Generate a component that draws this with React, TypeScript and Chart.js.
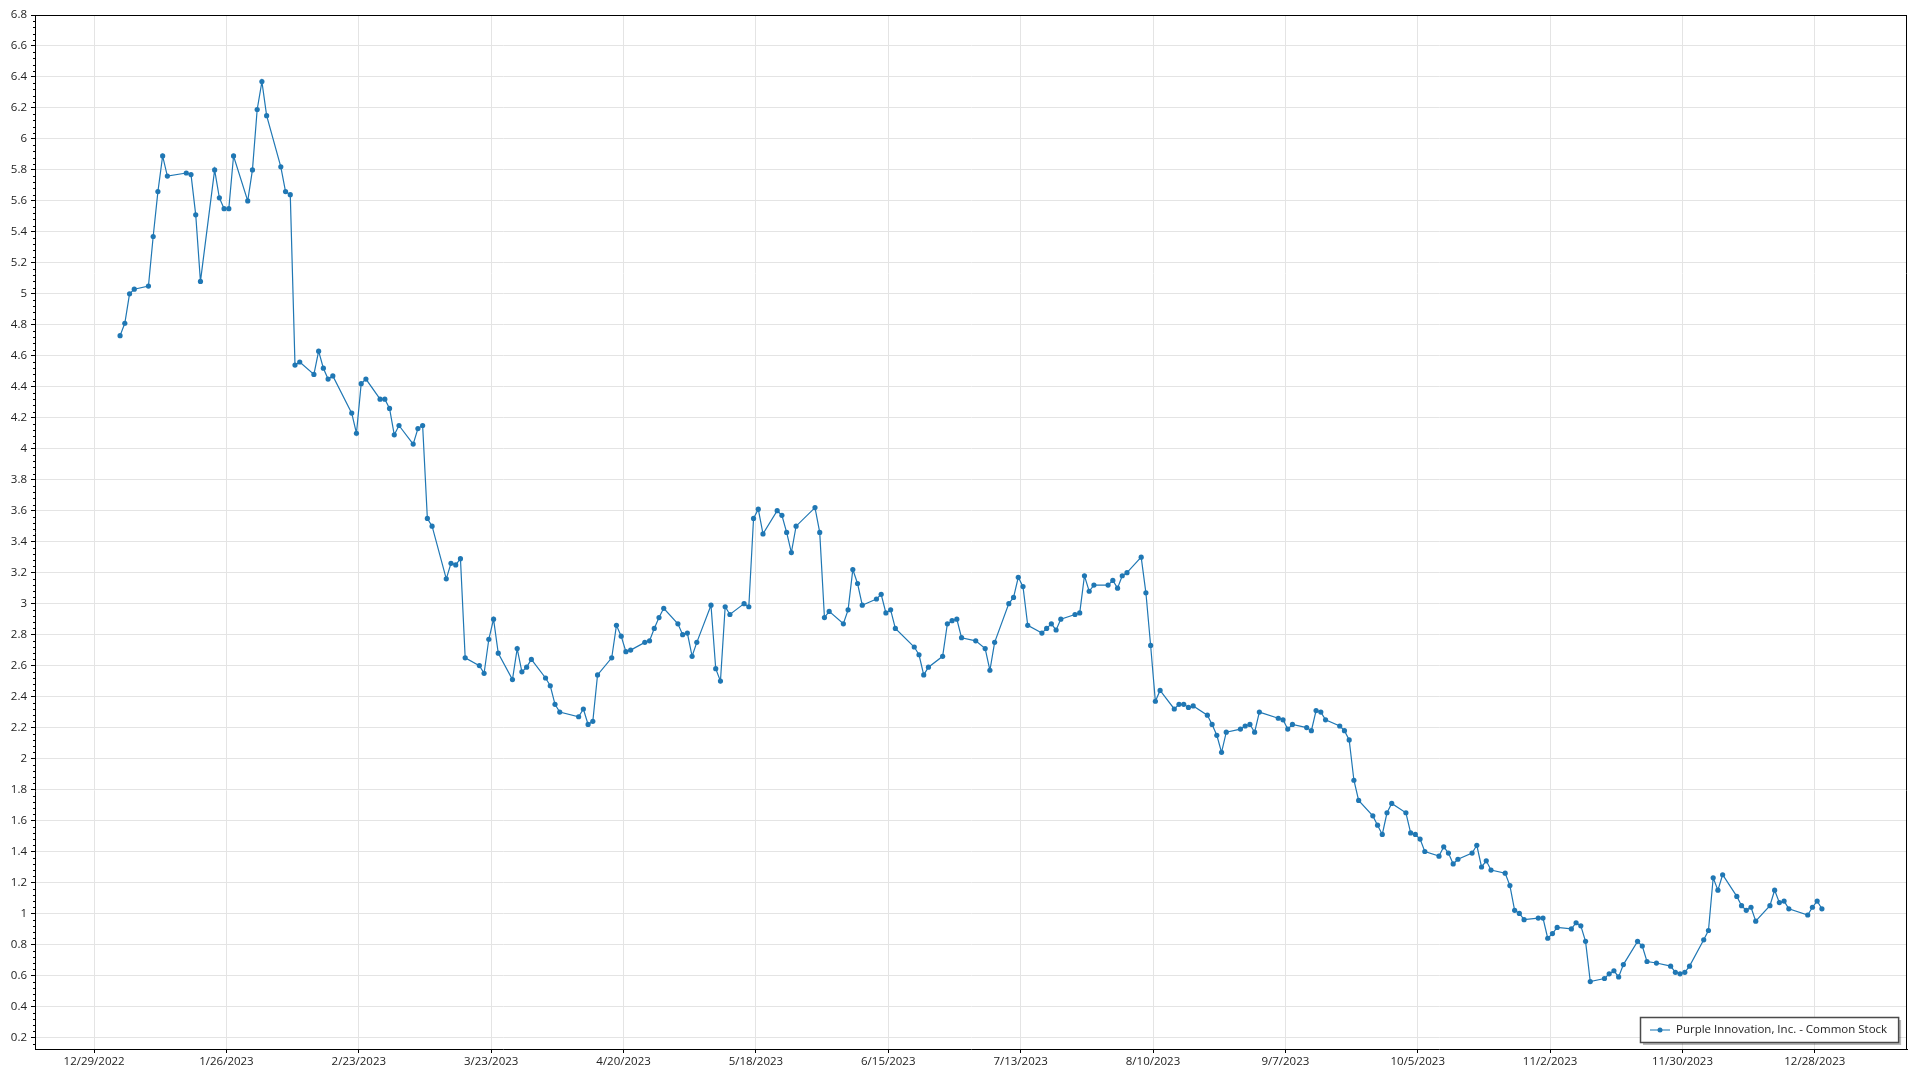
import { useEffect, useRef } from 'react';
import { Chart, registerables } from 'chart.js';

Chart.register(...registerables);

const seriesName = 'Purple Innovation, Inc. - Common Stock';

const tradeDates = [
  '2023-01-03', '2023-01-04', '2023-01-05', '2023-01-06', '2023-01-09', '2023-01-10', '2023-01-11', '2023-01-12', '2023-01-13',
  '2023-01-17', '2023-01-18', '2023-01-19', '2023-01-20', '2023-01-23', '2023-01-24', '2023-01-25', '2023-01-26', '2023-01-27',
  '2023-01-30', '2023-01-31',
  '2023-02-01', '2023-02-02', '2023-02-03', '2023-02-06', '2023-02-07', '2023-02-08', '2023-02-09', '2023-02-10', '2023-02-13',
  '2023-02-14', '2023-02-15', '2023-02-16', '2023-02-17', '2023-02-21', '2023-02-22', '2023-02-23', '2023-02-24', '2023-02-27',
  '2023-02-28',
  '2023-03-01', '2023-03-02', '2023-03-03', '2023-03-06', '2023-03-07', '2023-03-08', '2023-03-09', '2023-03-10', '2023-03-13',
  '2023-03-14', '2023-03-15', '2023-03-16', '2023-03-17', '2023-03-20', '2023-03-21', '2023-03-22', '2023-03-23', '2023-03-24',
  '2023-03-27', '2023-03-28', '2023-03-29', '2023-03-30', '2023-03-31',
  '2023-04-03', '2023-04-04', '2023-04-05', '2023-04-06', '2023-04-10', '2023-04-11', '2023-04-12', '2023-04-13', '2023-04-14',
  '2023-04-17', '2023-04-18', '2023-04-19', '2023-04-20', '2023-04-21', '2023-04-24', '2023-04-25', '2023-04-26', '2023-04-27',
  '2023-04-28',
  '2023-05-01', '2023-05-02', '2023-05-03', '2023-05-04', '2023-05-05', '2023-05-08', '2023-05-09', '2023-05-10', '2023-05-11',
  '2023-05-12', '2023-05-15', '2023-05-16', '2023-05-17', '2023-05-18', '2023-05-19', '2023-05-22', '2023-05-23', '2023-05-24',
  '2023-05-25', '2023-05-26', '2023-05-30', '2023-05-31',
  '2023-06-01', '2023-06-02', '2023-06-05', '2023-06-06', '2023-06-07', '2023-06-08', '2023-06-09', '2023-06-12', '2023-06-13',
  '2023-06-14', '2023-06-15', '2023-06-16', '2023-06-20', '2023-06-21', '2023-06-22', '2023-06-23', '2023-06-26', '2023-06-27',
  '2023-06-28', '2023-06-29', '2023-06-30',
  '2023-07-03', '2023-07-05', '2023-07-06', '2023-07-07', '2023-07-10', '2023-07-11', '2023-07-12', '2023-07-13', '2023-07-14',
  '2023-07-17', '2023-07-18', '2023-07-19', '2023-07-20', '2023-07-21', '2023-07-24', '2023-07-25', '2023-07-26', '2023-07-27',
  '2023-07-28', '2023-07-31',
  '2023-08-01', '2023-08-02', '2023-08-03', '2023-08-04', '2023-08-07', '2023-08-08', '2023-08-09', '2023-08-10', '2023-08-11',
  '2023-08-14', '2023-08-15', '2023-08-16', '2023-08-17', '2023-08-18', '2023-08-21', '2023-08-22', '2023-08-23', '2023-08-24',
  '2023-08-25', '2023-08-28', '2023-08-29', '2023-08-30', '2023-08-31',
  '2023-09-01', '2023-09-05', '2023-09-06', '2023-09-07', '2023-09-08', '2023-09-11', '2023-09-12', '2023-09-13', '2023-09-14',
  '2023-09-15', '2023-09-18', '2023-09-19', '2023-09-20', '2023-09-21', '2023-09-22', '2023-09-25', '2023-09-26', '2023-09-27',
  '2023-09-28', '2023-09-29',
  '2023-10-02', '2023-10-03', '2023-10-04', '2023-10-05', '2023-10-06', '2023-10-09', '2023-10-10', '2023-10-11', '2023-10-12',
  '2023-10-13', '2023-10-16', '2023-10-17', '2023-10-18', '2023-10-19', '2023-10-20', '2023-10-23', '2023-10-24', '2023-10-25',
  '2023-10-26', '2023-10-27', '2023-10-30', '2023-10-31',
  '2023-11-01', '2023-11-02', '2023-11-03', '2023-11-06', '2023-11-07', '2023-11-08', '2023-11-09', '2023-11-10', '2023-11-13',
  '2023-11-14', '2023-11-15', '2023-11-16', '2023-11-17', '2023-11-20', '2023-11-21', '2023-11-22', '2023-11-24', '2023-11-27',
  '2023-11-28', '2023-11-29', '2023-11-30',
  '2023-12-01', '2023-12-04', '2023-12-05', '2023-12-06', '2023-12-07', '2023-12-08', '2023-12-11', '2023-12-12', '2023-12-13',
  '2023-12-14', '2023-12-15', '2023-12-18', '2023-12-19', '2023-12-20', '2023-12-21', '2023-12-22', '2023-12-26', '2023-12-27',
  '2023-12-28', '2023-12-29',
];

const closePrices = [
  4.73, 4.81, 5.0, 5.03, 5.05, 5.37, 5.66, 5.89, 5.76,
  5.78, 5.77, 5.51, 5.08, 5.8, 5.62, 5.55, 5.55, 5.89,
  5.6, 5.8,
  6.19, 6.37, 6.15, 5.82, 5.66, 5.64, 4.54, 4.56, 4.48,
  4.63, 4.52, 4.45, 4.47, 4.23, 4.1, 4.42, 4.45, 4.32,
  4.32,
  4.26, 4.09, 4.15, 4.03, 4.13, 4.15, 3.55, 3.5, 3.16,
  3.26, 3.25, 3.29, 2.65, 2.6, 2.55, 2.77, 2.9, 2.68,
  2.51, 2.71, 2.56, 2.59, 2.64,
  2.52, 2.47, 2.35, 2.3, 2.27, 2.32, 2.22, 2.24, 2.54,
  2.65, 2.86, 2.79, 2.69, 2.7, 2.75, 2.76, 2.84, 2.91,
  2.97,
  2.87, 2.8, 2.81, 2.66, 2.75, 2.99, 2.58, 2.5, 2.98,
  2.93, 3.0, 2.98, 3.55, 3.61, 3.45, 3.6, 3.57, 3.46,
  3.33, 3.5, 3.62, 3.46,
  2.91, 2.95, 2.87, 2.96, 3.22, 3.13, 2.99, 3.03, 3.06,
  2.94, 2.96, 2.84, 2.72, 2.67, 2.54, 2.59, 2.66, 2.87,
  2.89, 2.9, 2.78,
  2.76, 2.71, 2.57, 2.75, 3.0, 3.04, 3.17, 3.11, 2.86,
  2.81, 2.84, 2.87, 2.83, 2.9, 2.93, 2.94, 3.18, 3.08,
  3.12, 3.12,
  3.15, 3.1, 3.18, 3.2, 3.3, 3.07, 2.73, 2.37, 2.44,
  2.32, 2.35, 2.35, 2.33, 2.34, 2.28, 2.22, 2.15, 2.04,
  2.17, 2.19, 2.21, 2.22, 2.17,
  2.3, 2.26, 2.25, 2.19, 2.22, 2.2, 2.18, 2.31, 2.3,
  2.25, 2.21, 2.18, 2.12, 1.86, 1.73, 1.63, 1.57, 1.51,
  1.65, 1.71,
  1.65, 1.52, 1.51, 1.48, 1.4, 1.37, 1.43, 1.39, 1.32,
  1.35, 1.39, 1.44, 1.3, 1.34, 1.28, 1.26, 1.18, 1.02,
  1.0, 0.96, 0.97, 0.97,
  0.84, 0.87, 0.91, 0.9, 0.94, 0.92, 0.82, 0.56, 0.58,
  0.61, 0.63, 0.59, 0.67, 0.82, 0.79, 0.69, 0.68, 0.66,
  0.62, 0.61, 0.62,
  0.66, 0.83, 0.89, 1.23, 1.15, 1.25, 1.11, 1.05, 1.02,
  1.04, 0.95, 1.05, 1.15, 1.07, 1.08, 1.03, 0.99, 1.04,
  1.08, 1.03,
];

const xTickLabels = [
  '12/29/2022', '1/26/2023', '2/23/2023', '3/23/2023', '4/20/2023', '5/18/2023', '6/15/2023',
  '7/13/2023', '8/10/2023', '9/7/2023', '10/5/2023', '11/2/2023', '11/30/2023', '12/28/2023',
];

const yTickValues = [
  0.2, 0.4, 0.6, 0.8, 1, 1.2, 1.4, 1.6, 1.8, 2, 2.2, 2.4, 2.6, 2.8, 3, 3.2, 3.4,
  3.6, 3.8, 4, 4.2, 4.4, 4.6, 4.8, 5, 5.2, 5.4, 5.6, 5.8, 6, 6.2, 6.4, 6.6, 6.8,
];
const yAxisMin = 0.125;
const yAxisMax = 6.8;

const DAY = 86400000;
// trading session timestamps (noon) expressed in days
const isoToDays = (s: string) => {
  const [y, m, d] = s.split('-').map(Number);
  return Date.UTC(y, m - 1, d, 12) / DAY;
};
const usToDays = (s: string) => {
  const [m, d, y] = s.split('/').map(Number);
  return Date.UTC(y, m - 1, d) / DAY;
};

const FONT = '"Open Sans", "Noto Sans", sans-serif';
const LINE_COLOR = '#1f77b4';

export default function App() {
  const canvasRef = useRef<HTMLCanvasElement | null>(null);

  useEffect(() => {
    const canvas = canvasRef.current;
    if (!canvas) return;

    const points = tradeDates.map((d, i) => ({ x: isoToDays(d), y: closePrices[i] }));
    const xTickValues = xTickLabels.map(usToDays);
    const first = points[0].x;
    const last = points[points.length - 1].x;
    const pad = (last - first) * 0.05;

    const framePlugin = {
      id: 'frame',
      afterDraw(chart: any) {
        const { ctx, chartArea } = chart;
        const ys = chart.scales.y;
        ctx.save();
        ctx.strokeStyle = '#000';
        ctx.lineWidth = 1;
        ctx.beginPath();
        ctx.moveTo(chartArea.left, Math.round(chartArea.top) + 0.5);
        ctx.lineTo(chartArea.right, Math.round(chartArea.top) + 0.5);
        ctx.moveTo(Math.round(chartArea.right) - 0.5, chartArea.top);
        ctx.lineTo(Math.round(chartArea.right) - 0.5, chartArea.bottom);
        ctx.stroke();
        // minor ticks on the value axis
        ctx.beginPath();
        for (let i = 0; i < yTickValues.length; i++) {
          const major = yTickValues[i];
          for (let k = 1; k < 5; k++) {
            const v = major - k * 0.04;
            if (v < yAxisMin) continue;
            const py = Math.round(ys.getPixelForValue(v)) + 0.5;
            ctx.moveTo(chartArea.left - 2, py);
            ctx.lineTo(chartArea.left, py);
          }
        }
        ctx.stroke();
        ctx.restore();
      },
    };

    const legendPlugin = {
      id: 'boxLegend',
      afterDraw(chart: any) {
        const { ctx, chartArea } = chart;
        ctx.save();
        ctx.font = '11.5px ' + FONT;
        const tw = ctx.measureText(seriesName).width;
        const h = 25;
        const w = 36 + tw + 11;
        const x1 = Math.round(chartArea.right - 9);
        const y1 = Math.round(chartArea.bottom - 7);
        const x0 = Math.round(x1 - w);
        const y0 = y1 - h;
        ctx.fillStyle = 'rgba(0,0,0,0.28)';
        ctx.fillRect(x0 + 3, y0 + 3, w, h);
        ctx.fillStyle = '#fff';
        ctx.fillRect(x0, y0, w, h);
        ctx.strokeStyle = '#4a4a4a';
        ctx.lineWidth = 1.5;
        ctx.strokeRect(x0 + 0.5, y0 + 0.5, w, h);
        const cy = y0 + h / 2 + 0.5;
        ctx.strokeStyle = 'rgba(31,119,180,0.7)';
        ctx.lineWidth = 1.5;
        ctx.beginPath();
        ctx.moveTo(x0 + 10, cy);
        ctx.lineTo(x0 + 30, cy);
        ctx.stroke();
        ctx.fillStyle = LINE_COLOR;
        ctx.beginPath();
        ctx.arc(x0 + 20, cy, 2.5, 0, Math.PI * 2);
        ctx.fill();
        ctx.fillStyle = '#222';
        ctx.textBaseline = 'middle';
        ctx.textAlign = 'left';
        ctx.fillText(seriesName, x0 + 36, cy);
        ctx.restore();
      },
    };

    const chart = new Chart(canvas, {
      type: 'line',
      data: {
        datasets: [
          {
            label: seriesName,
            data: points,
            borderColor: LINE_COLOR,
            backgroundColor: LINE_COLOR,
            borderWidth: 1.2,
            pointRadius: 2.6,
            pointBorderWidth: 0,
            pointBackgroundColor: LINE_COLOR,
            tension: 0,
            fill: false,
          },
        ],
      },
      options: {
        responsive: false,
        animation: false,
        layout: { padding: { left: 0, top: 15, right: 13, bottom: 0 } },
        plugins: {
          legend: { display: false },
          tooltip: { enabled: false },
          title: { display: false },
        },
        scales: {
          x: {
            type: 'linear',
            min: first - pad,
            max: last + pad,
            afterBuildTicks: (scale: any) => {
              scale.ticks = xTickValues.map((v) => ({ value: v }));
            },
            afterFit: (scale: any) => {
              scale.height = 31;
            },
            grid: {
              color: '#e4e4e4',
              lineWidth: 1,
              tickColor: '#000',
              tickLength: 4,
              drawTicks: true,
            },
            border: { display: true, color: '#000', width: 1 },
            ticks: {
              autoSkip: false,
              maxRotation: 0,
              padding: 2,
              color: '#222',
              font: { family: FONT, size: 11.5 },
              callback: (value: any) => {
                const idx = xTickValues.findIndex((t) => Math.abs(t - Number(value)) < 1e-6);
                return idx >= 0 ? xTickLabels[idx] : '';
              },
            },
          },
          y: {
            type: 'linear',
            min: yAxisMin,
            max: yAxisMax,
            afterBuildTicks: (scale: any) => {
              scale.ticks = yTickValues.map((v) => ({ value: v }));
            },
            afterFit: (scale: any) => {
              scale.width = 35;
            },
            grid: {
              color: '#e4e4e4',
              lineWidth: 1,
              tickColor: '#000',
              tickLength: 4,
              drawTicks: true,
            },
            border: { display: true, color: '#000', width: 1 },
            ticks: {
              autoSkip: false,
              padding: 4,
              color: '#222',
              font: { family: FONT, size: 11.5 },
              callback: (value: any) => String(Math.round(Number(value) * 10) / 10),
            },
          },
        },
      },
      plugins: [framePlugin, legendPlugin],
    } as any);

    return () => {
      chart.destroy();
    };
  }, []);

  return (
    <div style={{ position: 'absolute', left: 0, top: 0, width: 1920, height: 1080, background: '#fff' }}>
      <canvas ref={canvasRef} width={1920} height={1080} style={{ display: 'block', width: 1920, height: 1080 }} />
    </div>
  );
}
